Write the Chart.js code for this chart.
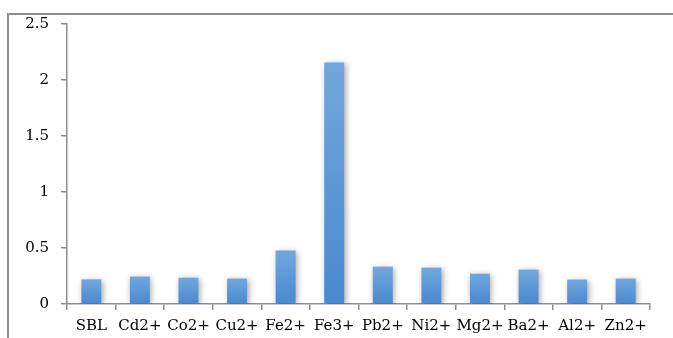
<!DOCTYPE html>
<html>
<head>
<meta charset="utf-8">
<script src="https://cdn.jsdelivr.net/npm/chart.js@4.4.1/dist/chart.umd.min.js"></script>
<style>
  html, body { margin: 0; padding: 0; background: #fff; }
  #wrap { position: relative; width: 673px; height: 338px; overflow: hidden; }
  #frame { position: absolute; left: 7px; top: 13px; width: 700px; height: 400px;
           border-top: 2px solid #8e8e8e; border-left: 2px solid #8e8e8e; }
  canvas { position: absolute; left: 0; top: 0; }
</style>
</head>
<body>
<div id="wrap">
  <div id="frame"></div>
  <canvas id="c" width="673" height="338"></canvas>
</div>
<script>
const categories = ["SBL", "Cd2+", "Co2+", "Cu2+", "Fe2+", "Fe3+", "Pb2+", "Ni2+", "Mg2+", "Ba2+", "Al2+", "Zn2+"];
const values = [0.22, 0.245, 0.235, 0.227, 0.477, 2.157, 0.333, 0.324, 0.27, 0.307, 0.218, 0.227];
const yTicks = [0, 0.5, 1, 1.5, 2, 2.5];
const yTickLabels = ["0", "0.5", "1", "1.5", "2", "2.5"];

const shadowPlugin = {
  id: 'barShadow',
  beforeDatasetDraw(chart) {
    const ctx = chart.ctx;
    ctx.save();
    ctx.shadowColor = 'rgba(0,0,0,0.35)';
    ctx.shadowBlur = 6;
    ctx.shadowOffsetX = 1.5;
    ctx.shadowOffsetY = 1.5;
  },
  afterDatasetDraw(chart) {
    chart.ctx.restore();
  }
};

new Chart(document.getElementById('c'), {
  type: 'bar',
  data: {
    labels: categories,
    datasets: [{
      data: values,
      backgroundColor: (c) => {
        const chart = c.chart;
        const { ctx, chartArea, scales } = chart;
        if (!chartArea || c.raw === undefined) return '#5b9bd5';
        const yTop = scales.y.getPixelForValue(c.raw);
        const yBot = scales.y.getPixelForValue(0);
        const g = ctx.createLinearGradient(0, yTop, 0, yBot);
        g.addColorStop(0, '#72a7dc');
        g.addColorStop(1, '#4889d0');
        return g;
      },
      borderWidth: 0,
      categoryPercentage: 1,
      barPercentage: 0.41
    }]
  },
  options: {
    responsive: false,
    animation: false,
    devicePixelRatio: 1,
    layout: { padding: { left: 0, top: 24, right: 23, bottom: 0 } },
    plugins: { legend: { display: false }, tooltip: { enabled: false } },
    scales: {
      x: {
        afterFit(s) { s.height = 34; },
        grid: { display: true, drawOnChartArea: false, drawTicks: true, tickLength: 6, color: '#8e8e8e', lineWidth: 1.5, offset: true },
        border: { display: true, color: '#8e8e8e', width: 1.5 },
        ticks: { color: '#000', font: { family: 'DejaVu Serif', size: 15 }, padding: 7, maxRotation: 0, autoSkip: false }
      },
      y: {
        min: 0, max: 2.5,
        afterFit(s) { s.width = 67; },
        afterBuildTicks(s) { s.ticks = yTicks.map(v => ({ value: v })); },
        grid: { display: true, drawOnChartArea: false, drawTicks: true, tickLength: 6, color: '#8e8e8e', lineWidth: 1.5 },
        border: { display: true, color: '#8e8e8e', width: 1.5 },
        ticks: {
          color: '#000', font: { family: 'DejaVu Serif', size: 15 }, padding: 12,
          callback: (v, i) => yTickLabels[yTicks.indexOf(v)]
        }
      }
    }
  },
  plugins: [shadowPlugin]
});
</script>
</body>
</html>
